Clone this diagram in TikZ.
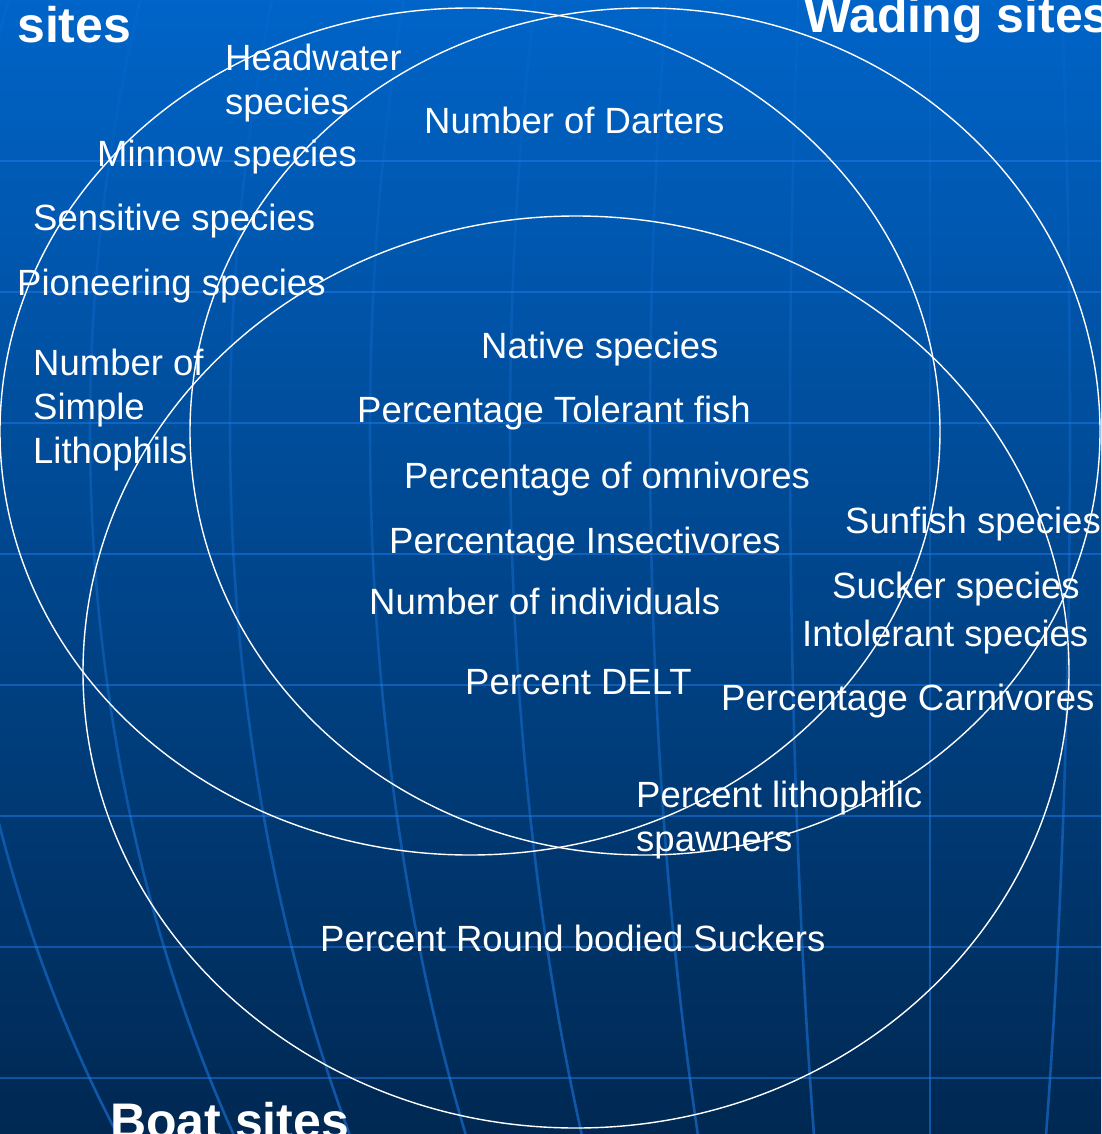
\documentclass[tikz,border=0pt]{standalone}
\usepackage{fontspec}
\setmainfont{Liberation Sans}
\usetikzlibrary{shapes.geometric}
\definecolor{bgtop}{RGB}{0,100,200}
\definecolor{bgmid}{RGB}{0,72,148}
\definecolor{bgbot}{RGB}{0,40,82}
\definecolor{gridblue}{RGB}{30,125,235}
\begin{document}
\begin{tikzpicture}[x=1pt,y=-1pt,
  label/.style={text=white, font=\fontsize{36.5}{44}\selectfont, inner sep=0pt, anchor=base west},
  title/.style={text=white, font=\fontsize{50}{58}\selectfont\bfseries, inner sep=0pt, anchor=base west},
  setline/.style={draw=white, line width=1.4pt, ellipse, inner sep=0pt},
  gridline/.style={draw=gridblue, line width=2.6pt, opacity=0.5},
  meridian/.style={draw=gridblue, line width=2.6pt}]
\useasboundingbox (0,0) rectangle (1101,1134);
\clip (0,0) rectangle (1101,1134);
% background
\shade[top color=bgtop, middle color=bgmid, bottom color=bgbot] (0,0) rectangle (1101,1134);
\foreach \yy in {161,292,423,554,685,816,947,1078}
  \draw[gridline] (0,\yy) -- (1101,\yy);
% meridians, drawn band by band, stronger towards the bottom
\foreach \ya/\yb/\op in {0/161/0.12, 161/292/0.18, 292/423/0.24, 423/554/0.3,
    554/685/0.36, 685/816/0.42, 816/947/0.48, 947/1078/0.52, 1078/1134/0.55}
  \foreach \a in {-980,-840,-700,-560,-420,-280,-140,0,140,280}
    \draw[meridian, opacity=\op] plot[domain=\ya:\yb, samples=10, variable=\yv]
      ({930+\a*sqrt(1-((\yv-430)/1260)^2)}, {\yv});
% the three sets
\node[setline, minimum width=940pt, minimum height=847pt] (setL) at (470,431.5) {};
\node[setline, minimum width=910pt, minimum height=847pt] (setR) at (645,431.5) {};
\node[setline, minimum width=986pt, minimum height=912pt] (setB) at (576,672) {};
% set titles
\node[title] (tL) at (17,43) {sites};
\node[title] (tR) at (804,33) {Wading sites};
\node[title] (tB) at (110,1138) {Boat sites};
% metrics
\node[label] (hw1) at (225,71) {Headwater};
\node[label] (hw2) at (225,115) {species};
\node[label] (minnow) at (97,167) {Minnow species};
\node[label] (sensitive) at (33,230) {Sensitive species};
\node[label] (pioneer) at (17,295) {Pioneering species};
\node[label] (lith1) at (33,375) {Number of};
\node[label] (lith2) at (33,419) {Simple};
\node[label] (lith3) at (33,463) {Lithophils};
\node[label] (darters) at (424,134) {Number of Darters};
\node[label] (native) at (481,358) {Native species};
\node[label] (tolerant) at (357,422) {Percentage Tolerant fish};
\node[label] (omni) at (404,488) {Percentage of omnivores};
\node[label] (insect) at (389,553) {Percentage Insectivores};
\node[label] (indiv) at (369,614) {Number of individuals};
\node[label] (delt) at (465,694) {Percent DELT};
\node[label] (sunfish) at (845,533) {Sunfish species};
\node[label] (sucker) at (832,598) {Sucker species};
\node[label] (intol) at (802,646) {Intolerant species};
\node[label] (carni) at (721,710) {Percentage Carnivores};
\node[label] (litho1) at (636,807) {Percent lithophilic};
\node[label] (litho2) at (636,851) {spawners};
\node[label] (round) at (320,951) {Percent Round bodied Suckers};
\end{tikzpicture}
\end{document}
